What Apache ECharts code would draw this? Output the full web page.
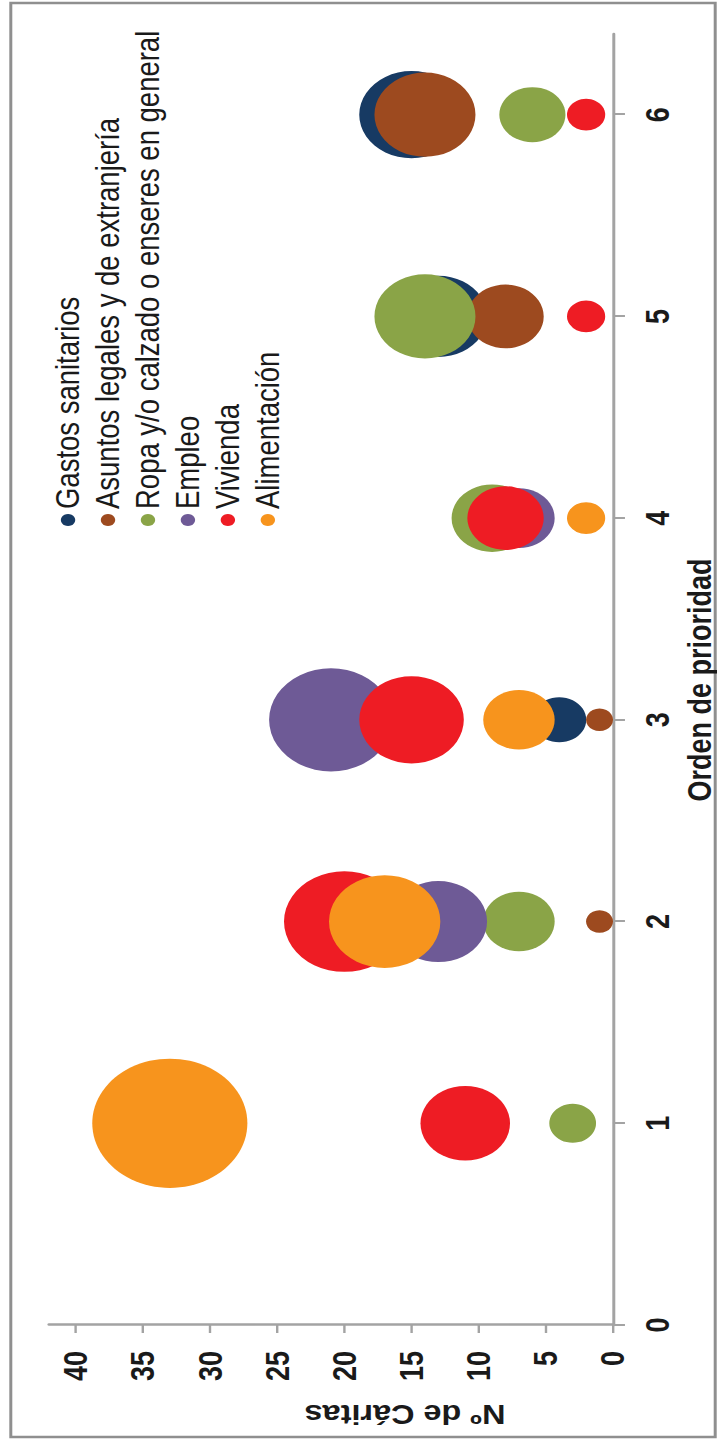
<!DOCTYPE html>
<html>
<head>
<meta charset="utf-8">
<script src="https://cdn.jsdelivr.net/npm/echarts@6/dist/echarts.min.js"></script>
<style>
  html, body { margin: 0; padding: 0; background: #ffffff; overflow: hidden; width: 717px; height: 1447px; }
  #chart { position: absolute; left: 0; top: 0; width: 1447px; height: 597.5px;
           transform-origin: 0 0; transform: matrix(0, -1, 1.2, 0, 0, 1447); background: #ffffff; }
</style>
</head>
<body>
<div id="chart"></div>
<script>
// ---- data ----
const priorities = [1, 2, 3, 4, 5, 6];
const xTickValues = [0, 1, 2, 3, 4, 5, 6];
const yTickValues = [0, 5, 10, 15, 20, 25, 30, 35, 40];
const seriesNames = [
  'Gastos sanitarios',
  'Asuntos legales y de extranjería',
  'Ropa y/o calzado o enseres en general',
  'Empleo',
  'Vivienda',
  'Alimentación'
];
const gastosSanitarios = [null, null, 4, null, 13, 15];
const asuntosLegales   = [null, 1, 1, null, 8, 14];
const ropaCalzado      = [3, 7, null, 9, 14, 6];
const empleo           = [null, 13, 21, 7, null, null];
const vivienda         = [11, 20, 15, 8, 2, 2];
const alimentacion     = [33, 17, 7, 2, null, null];
const xAxisTitle = 'Orden de prioridad';
const yAxisTitle = 'Nº de Cáritas';

// ---- styling ----
const colors = ['#173a63', '#9d4a1f', '#8aa447', '#6e5a96', '#ee1c24', '#f7941d'];
const FONT = '"Liberation Sans", Arial, sans-serif';
const TEXT = '#1a1a1a';
const AXIS = '#a3a3a3';
const SIZE_K = 22.5;

const valueSets = [gastosSanitarios, asuntosLegales, ropaCalzado, empleo, vivienda, alimentacion];

const chart = echarts.init(document.getElementById('chart'), null, { renderer: 'svg', width: 1447, height: 597.5 });

const series = valueSets.map((vals, si) => ({
  type: 'scatter',
  name: seriesNames[si],
  data: priorities.map((p, i) => vals[i] == null ? null : [p, vals[i], vals[i]]).filter(d => d),
  symbol: 'circle',
  symbolSize: d => SIZE_K * Math.sqrt(d[2]),
  itemStyle: { color: colors[si], opacity: 1 },
  emphasis: { disabled: true },
  silent: true,
  z: 2
}));

chart.setOption({
  animation: false,
  color: colors,
  grid: { left: 122, right: 34, top: 40.8, bottom: 86.7, containLabel: false },
  xAxis: {
    type: 'value', min: 0, max: 6.4,
    splitLine: { show: false },
    axisLine: { show: true, onZero: false, lineStyle: { color: AXIS, width: 2.5 } },
    axisTick: { show: true, customValues: xTickValues, length: 10, lineStyle: { color: AXIS, width: 2 } },
    axisLabel: { customValues: xTickValues, margin: 24, fontSize: 27, fontWeight: 'bold', color: TEXT, fontFamily: FONT }
  },
  yAxis: {
    type: 'value', min: 0, max: 42,
    splitLine: { show: false },
    axisLine: { show: true, onZero: false, lineStyle: { color: AXIS, width: 2.5 } },
    axisTick: { show: true, customValues: yTickValues, length: 8, lineStyle: { color: AXIS, width: 2 } },
    axisLabel: { customValues: yTickValues, margin: 26, fontSize: 27, fontWeight: 'bold', color: TEXT, fontFamily: FONT }
  },
  legend: {
    orient: 'vertical', left: 921, top: 41.7, padding: 0,
    itemWidth: 12, itemHeight: 12, itemGap: 3.3, icon: 'circle',
    selectedMode: false,
    textStyle: { fontSize: 27.5, lineHeight: 30, color: TEXT, fontFamily: FONT },
    data: seriesNames
  },
  graphic: [
    { type: 'rect', silent: true, z: 0,
      shape: { x: 10, y: 9, width: 1434, height: 587 },
      style: { fill: 'none', stroke: '#8f8f8f', lineWidth: 2.5 } },
    { type: 'text', silent: true, x: 767, y: 583,
      style: { text: xAxisTitle, font: 'bold 27px ' + FONT, fill: TEXT, textAlign: 'center', textVerticalAlign: 'middle' } },
    { type: 'text', silent: true, x: 32, y: 337.5, rotation: Math.PI / 2,
      style: { text: yAxisTitle, font: 'bold 27px ' + FONT, fill: TEXT, textAlign: 'center', textVerticalAlign: 'middle' } }
  ],
  series: series
});
</script>
</body>
</html>
